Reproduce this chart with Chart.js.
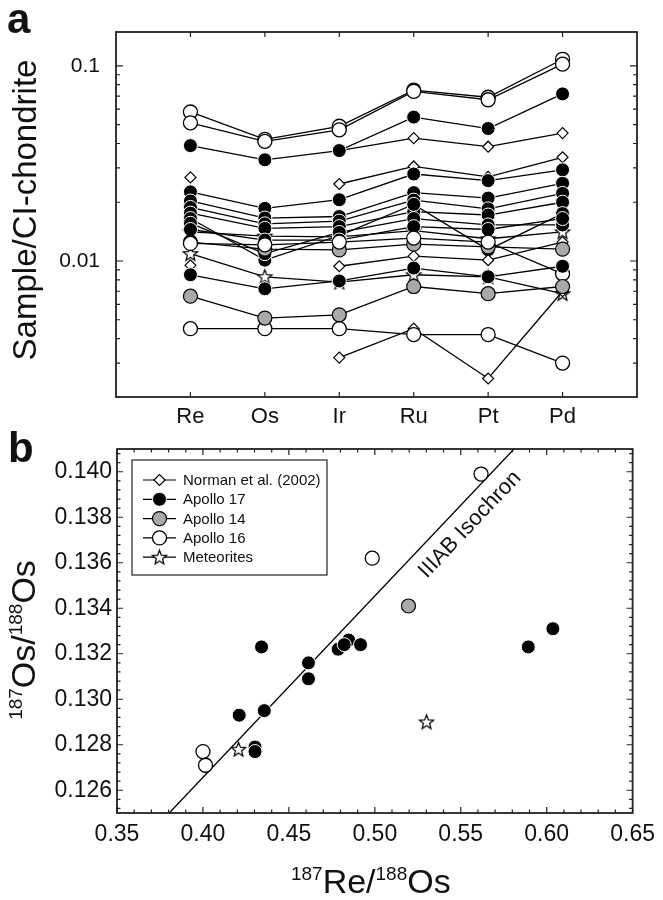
<!DOCTYPE html>
<html>
<head>
<meta charset="utf-8">
<script src="https://cdn.jsdelivr.net/npm/chart.js@4.4.1/dist/chart.umd.min.js"></script>
<style>
  body { margin: 0; background: #fff; }
  #wrap { position: relative; width: 663px; height: 900px; }
  #ca { position: absolute; left: 0; top: 0; }
  #cb { position: absolute; left: 0; top: 430px; }
</style>
</head>
<body>
<div id="wrap">
  <canvas id="ca" width="663" height="445"></canvas>
  <canvas id="cb" width="663" height="470"></canvas>
</div>
<script>
const FONT = "'Liberation Sans', Arial, Helvetica, sans-serif";
Chart.defaults.font.family = FONT;
Chart.defaults.color = '#111';

// ---- panel a: CI-normalised HSE patterns ----
const elements = ['Re', 'Os', 'Ir', 'Ru', 'Pt', 'Pd'];
const yTicksA = [0.01, 0.1];

// Apollo 16 (open circles)
const a16_1 = [0.058, 0.042, 0.049, 0.075, 0.069, 0.108];
const a16_2 = [0.051, 0.041, 0.047, 0.074, 0.067, 0.102];
const a16_3 = [0.0123, 0.0121, 0.0125, 0.0131, 0.0125, 0.0086];
const a16_4 = [0.0045, 0.0045, 0.0045, 0.0042, 0.0042, 0.0030];
// Apollo 17 (filled circles)
const a17_1 = [0.039, 0.033, 0.0368, 0.0546, 0.0477, 0.0718];
const a17_2 = [0.0226, 0.0186, 0.0206, 0.0279, 0.0258, 0.0293];
const a17_3 = [0.0203, 0.0166, 0.0169, 0.0224, 0.021, 0.025];
const a17_4 = [0.0188, 0.0155, 0.016, 0.0205, 0.0185, 0.0222];
const a17_5 = [0.0176, 0.0147, 0.015, 0.0179, 0.0172, 0.02];
const a17_6 = [0.0165, 0.0101, 0.0135, 0.0195, 0.0114, 0.0175];
const a17_7 = [0.0156, 0.0109, 0.014, 0.0165, 0.0153, 0.0153];
const a17_8 = [0.0145, 0.0128, 0.0128, 0.015, 0.0145, 0.0165];
const a17_9 = [0.0085, 0.0072, 0.0079, 0.0092, 0.0083, 0.0094];
// Apollo 14 (grey circles)
const a14_1 = [0.0066, 0.0051, 0.0053, 0.0074, 0.0068, 0.0074];
const a14_2 = [0.0125, 0.0115, 0.0114, 0.0122, 0.0118, 0.0115];
// Norman et al. (2002) (diamonds, no Os)
const nor_1 = [0.0268, null, 0.0248, 0.0305, 0.027, 0.034];
const nor_2 = [null, null, 0.0368, 0.0426, 0.0385, 0.0452];
const nor_3 = [0.0095, null, 0.0094, 0.0106, 0.0101, 0.0125];
const nor_4 = [null, null, 0.0032, 0.0045, 0.0025, 0.007];
// Meteorites (stars)
const met_1 = [0.0141, 0.0134, 0.0133, 0.0143, 0.013, 0.0141];
const met_2 = [0.0109, 0.0083, 0.0078, 0.0085, 0.0083, 0.0068];

// ---- panel b: Re-Os isochron diagram ----
const xTicksB = [0.35, 0.40, 0.45, 0.50, 0.55, 0.60, 0.65];
const yTicksB = [0.126, 0.128, 0.130, 0.132, 0.134, 0.136, 0.138, 0.140];

const a17_re = [0.4341, 0.4614, 0.4614, 0.4787, 0.4848, 0.4822, 0.4917, 0.4211, 0.4357, 0.4303, 0.4303, 0.5893, 0.6036];
const a17_os = [0.1323, 0.1316, 0.1309, 0.1322, 0.1326, 0.1324, 0.1324, 0.1293, 0.1295, 0.1279, 0.1277, 0.1323, 0.1331];
const a14_re = [0.5196];
const a14_os = [0.1341];
const a16_re = [0.4000, 0.4015, 0.4985, 0.5618];
const a16_os = [0.1277, 0.1271, 0.1362, 0.1399];
const met_re = [0.4207, 0.5301];
const met_os = [0.1278, 0.1290];
const isoX = [0.3804, 0.581];
const isoY = [0.1250, 0.1410];

const legendLabels = ['Norman et al. (2002)', 'Apollo 17', 'Apollo 14', 'Apollo 16', 'Meteorites'];

function makeStar(r) {
  const c = document.createElement('canvas');
  const s = Math.ceil(r * 2 + 4);
  c.width = s; c.height = s;
  const g = c.getContext('2d');
  g.beginPath();
  for (let i = 0; i < 10; i++) {
    const rr = i % 2 ? r * 0.43 : r;
    const ang = -Math.PI / 2 + i * Math.PI / 5;
    g.lineTo(s / 2 + rr * Math.cos(ang), s / 2 + 0.5 + rr * Math.sin(ang));
  }
  g.closePath();
  g.fillStyle = '#fff'; g.fill();
  g.lineWidth = 1.2; g.strokeStyle = '#000'; g.stroke();
  return c;
}
const starImg = makeStar(7.5);

const groupStyle = {
  nor: { pointStyle: 'rectRot', pointRadius: 5.5, pointBackgroundColor: '#fff', pointBorderColor: '#000', pointBorderWidth: 1.2 },
  a17: { pointStyle: 'circle', pointRadius: 7, pointBackgroundColor: '#000', pointBorderColor: '#fff', pointBorderWidth: 1 },
  a14: { pointStyle: 'circle', pointRadius: 7, pointBackgroundColor: '#a9a9a9', pointBorderColor: '#000', pointBorderWidth: 1.2 },
  a16: { pointStyle: 'circle', pointRadius: 7, pointBackgroundColor: '#fff', pointBorderColor: '#000', pointBorderWidth: 1.3 },
  met: { pointStyle: starImg, pointRadius: 7.5, pointBackgroundColor: '#fff', pointBorderColor: '#000', pointBorderWidth: 1.2 }
};

// first entry ends up on top
const seriesA = [
  ['a17', a17_9], ['a14', a14_1], ['a16', a16_4], ['nor', nor_4],
  ['a16', a16_3], ['a14', a14_2], ['nor', nor_3], ['met', met_2],
  ['a17', a17_8], ['a17', a17_7], ['a17', a17_6], ['a17', a17_5],
  ['a17', a17_4], ['a17', a17_3], ['a17', a17_2], ['met', met_1],
  ['nor', nor_1], ['a17', a17_1], ['nor', nor_2], ['a16', a16_2], ['a16', a16_1]
];

function lineDataset(group, vals) {
  return Object.assign({
    data: vals.map((v, i) => ({ x: i, y: v })),
    borderColor: '#000',
    borderWidth: 1.3,
    spanGaps: false,
    fill: false,
    tension: 0
  }, groupStyle[group]);
}

function drawSupText(ctx, parts, big, small, rise) {
  let w = 0;
  parts.forEach(p => {
    ctx.font = (p[1] ? small : big) + 'px ' + FONT;
    w += ctx.measureText(p[0]).width;
  });
  let xx = -w / 2;
  ctx.textAlign = 'left';
  ctx.textBaseline = 'alphabetic';
  parts.forEach(p => {
    ctx.font = (p[1] ? small : big) + 'px ' + FONT;
    ctx.fillText(p[0], xx, p[1] ? -rise : 0);
    xx += ctx.measureText(p[0]).width;
  });
}

// ---------- chart a ----------
const yMinorA = [];
[0.001, 0.01].forEach(dec => { for (let k = 2; k <= 9; k++) yMinorA.push(dec * k); });

const decorA = {
  id: 'decorA',
  afterDraw(chart) {
    const { ctx, chartArea: a, scales: { x, y } } = chart;
    ctx.save();
    ctx.strokeStyle = '#222';
    ctx.lineWidth = 1.2;
    ctx.beginPath();
    elements.forEach((e, i) => {
      const px = x.getPixelForValue(i);
      ctx.moveTo(px, a.top); ctx.lineTo(px, a.top + 5);
      ctx.moveTo(px, a.bottom); ctx.lineTo(px, a.bottom - 5);
    });
    yTicksA.forEach(v => {
      const py = y.getPixelForValue(v);
      ctx.moveTo(a.left, py); ctx.lineTo(a.left + 7, py);
      ctx.moveTo(a.right, py); ctx.lineTo(a.right - 7, py);
    });
    yMinorA.forEach(v => {
      const py = y.getPixelForValue(v);
      if (py < a.top || py > a.bottom) return;
      ctx.moveTo(a.left, py); ctx.lineTo(a.left + 4, py);
      ctx.moveTo(a.right, py); ctx.lineTo(a.right - 4, py);
    });
    ctx.stroke();
    ctx.lineWidth = 1.8;
    ctx.strokeRect(a.left, a.top, a.right - a.left, a.bottom - a.top);

    ctx.fillStyle = '#111';
    ctx.font = 'bold 42px ' + FONT;
    ctx.textAlign = 'left';
    ctx.textBaseline = 'alphabetic';
    ctx.fillText('a', 7, 33);

    ctx.translate(36, 210);
    ctx.rotate(-Math.PI / 2);
    ctx.font = '33px ' + FONT;
    ctx.textAlign = 'center';
    ctx.fillText('Sample/CI-chondrite', 0, 0);
    ctx.restore();
  }
};

new Chart(document.getElementById('ca'), {
  type: 'line',
  data: { datasets: seriesA.map(s => lineDataset(s[0], s[1])) },
  options: {
    responsive: false,
    devicePixelRatio: 1,
    animation: false,
    events: [],
    layout: { padding: { top: 32, right: 26, left: 0, bottom: 0 } },
    plugins: { legend: { display: false }, tooltip: { enabled: false } },
    scales: {
      x: {
        type: 'linear', min: -1, max: 6,
        grid: { display: false, drawTicks: false }, border: { display: false },
        afterBuildTicks: s => { s.ticks = elements.map((e, i) => ({ value: i })); },
        afterFit: s => { s.height = 48; },
        ticks: { font: { size: 22 }, color: '#111', padding: 7, maxRotation: 0, autoSkip: false,
          callback: v => elements[v] || '' }
      },
      y: {
        type: 'logarithmic', min: 0.00201, max: 0.149,
        grid: { display: false, drawTicks: false }, border: { display: false },
        afterBuildTicks: s => { s.ticks = yTicksA.map(v => ({ value: v })); },
        afterFit: s => { s.width = 116; },
        ticks: { font: { size: 21 }, color: '#111', padding: 16, autoSkip: false,
          callback: v => String(v) }
      }
    }
  },
  plugins: [decorA]
});

// ---------- chart b ----------
const legendStyles = ['nor', 'a17', 'a14', 'a16', 'met'];

function pointStyleOpts(g) {
  const s = groupStyle[g];
  return { pointStyle: s.pointStyle, radius: s.pointRadius, borderWidth: s.pointBorderWidth, rotation: 0 };
}

const decorB = {
  id: 'decorB',
  afterDraw(chart) {
    const { ctx, chartArea: a, scales: { x, y } } = chart;
    ctx.save();
    ctx.strokeStyle = '#222';
    ctx.lineWidth = 1.2;
    ctx.beginPath();
    for (let i = 0; i <= 30; i++) {
      const v = xTicksB[0] + i * 0.01;
      const px = x.getPixelForValue(v);
      const len = i % 5 === 0 ? 6 : 3.5;
      ctx.moveTo(px, a.bottom); ctx.lineTo(px, a.bottom - len);
      ctx.moveTo(px, a.top); ctx.lineTo(px, a.top + len);
    }
    for (let i = -2; i <= 37; i++) {
      const v = yTicksB[0] + i * 0.0004;
      const py = y.getPixelForValue(v);
      if (py < a.top - 0.5 || py > a.bottom + 0.5) continue;
      const len = i % 5 === 0 ? 6 : 3.5;
      ctx.moveTo(a.left, py); ctx.lineTo(a.left + len, py);
      ctx.moveTo(a.right, py); ctx.lineTo(a.right - len, py);
    }
    ctx.stroke();
    ctx.lineWidth = 1.8;
    ctx.strokeRect(a.left, a.top, a.right - a.left, a.bottom - a.top);

    // legend box
    const lx = a.left + 15, ly = a.top + 11;
    ctx.lineWidth = 1.2;
    ctx.fillStyle = '#fff';
    ctx.fillRect(lx, ly, 195, 115);
    ctx.strokeRect(lx, ly, 195, 115);
    legendLabels.forEach((lab, i) => {
      const ry = ly + 20 + i * 19.3;
      ctx.beginPath();
      ctx.lineWidth = 1.2;
      ctx.strokeStyle = '#000';
      ctx.moveTo(lx + 11, ry); ctx.lineTo(lx + 44, ry);
      ctx.stroke();
      const g = legendStyles[i];
      ctx.fillStyle = groupStyle[g].pointBackgroundColor;
      ctx.strokeStyle = groupStyle[g].pointBorderColor;
      ctx.lineWidth = groupStyle[g].pointBorderWidth;
      Chart.helpers.drawPoint(ctx, pointStyleOpts(g), lx + 27.5, ry);
      ctx.fillStyle = '#111';
      ctx.font = '15px ' + FONT;
      ctx.textAlign = 'left';
      ctx.textBaseline = 'middle';
      ctx.fillText(lab, lx + 51, ry + 1);
    });

    // isochron label
    const p0x = x.getPixelForValue(isoX[0]), p0y = y.getPixelForValue(isoY[0]);
    const p1x = x.getPixelForValue(isoX[1]), p1y = y.getPixelForValue(isoY[1]);
    const t = 0.83;
    ctx.save();
    ctx.translate(p0x + (p1x - p0x) * t, p0y + (p1y - p0y) * t);
    ctx.rotate(Math.atan2(p1y - p0y, p1x - p0x));
    ctx.fillStyle = '#111';
    ctx.font = '22px ' + FONT;
    ctx.textAlign = 'center';
    ctx.textBaseline = 'middle';
    ctx.fillText('IIIAB Isochron', 0, 20);
    ctx.restore();

    ctx.fillStyle = '#111';
    ctx.font = 'bold 42px ' + FONT;
    ctx.textAlign = 'left';
    ctx.textBaseline = 'alphabetic';
    ctx.fillText('b', 8, 32);

    // axis titles
    ctx.save();
    ctx.translate((a.left + a.right) / 2 - 4, 463);
    drawSupText(ctx, [['187', true], ['Re/', false], ['188', true], ['Os', false]], 34, 19, 13);
    ctx.restore();

    ctx.save();
    ctx.translate(35, 210);
    ctx.rotate(-Math.PI / 2);
    drawSupText(ctx, [['187', true], ['Os/', false], ['188', true], ['Os', false]], 34, 19, 13);
    ctx.restore();

    ctx.restore();
  }
};

function scatterSet(group, xs, ys) {
  return Object.assign({
    data: xs.map((v, i) => ({ x: v, y: ys[i] })),
    showLine: false
  }, groupStyle[group]);
}

new Chart(document.getElementById('cb'), {
  type: 'scatter',
  data: {
    datasets: [
      scatterSet('a17', a17_re, a17_os),
      scatterSet('met', met_re, met_os),
      scatterSet('a14', a14_re, a14_os),
      scatterSet('a16', a16_re, a16_os),
      {
        data: isoX.map((v, i) => ({ x: v, y: isoY[i] })),
        showLine: true, borderColor: '#000', borderWidth: 1.3, pointRadius: 0
      }
    ]
  },
  options: {
    responsive: false,
    devicePixelRatio: 1,
    animation: false,
    events: [],
    layout: { padding: { top: 19, right: 25, left: 0, bottom: 0 } },
    plugins: { legend: { display: false }, tooltip: { enabled: false } },
    scales: {
      x: {
        type: 'linear', min: 0.35, max: 0.65,
        grid: { display: false, drawTicks: false }, border: { display: false },
        afterBuildTicks: s => { s.ticks = xTicksB.map(v => ({ value: v })); },
        afterFit: s => { s.height = 87; },
        ticks: { font: { size: 23 }, color: '#111', padding: 8, maxRotation: 0, autoSkip: false,
          callback: v => v.toFixed(2) }
      },
      y: {
        type: 'linear', min: 0.125, max: 0.141,
        grid: { display: false, drawTicks: false }, border: { display: false },
        afterBuildTicks: s => { s.ticks = yTicksB.map(v => ({ value: v })); },
        afterFit: s => { s.width = 117; },
        ticks: { font: { size: 23 }, color: '#111', padding: 5, autoSkip: false,
          callback: v => v.toFixed(3) }
      }
    }
  },
  plugins: [decorB]
});
</script>
</body>
</html>
